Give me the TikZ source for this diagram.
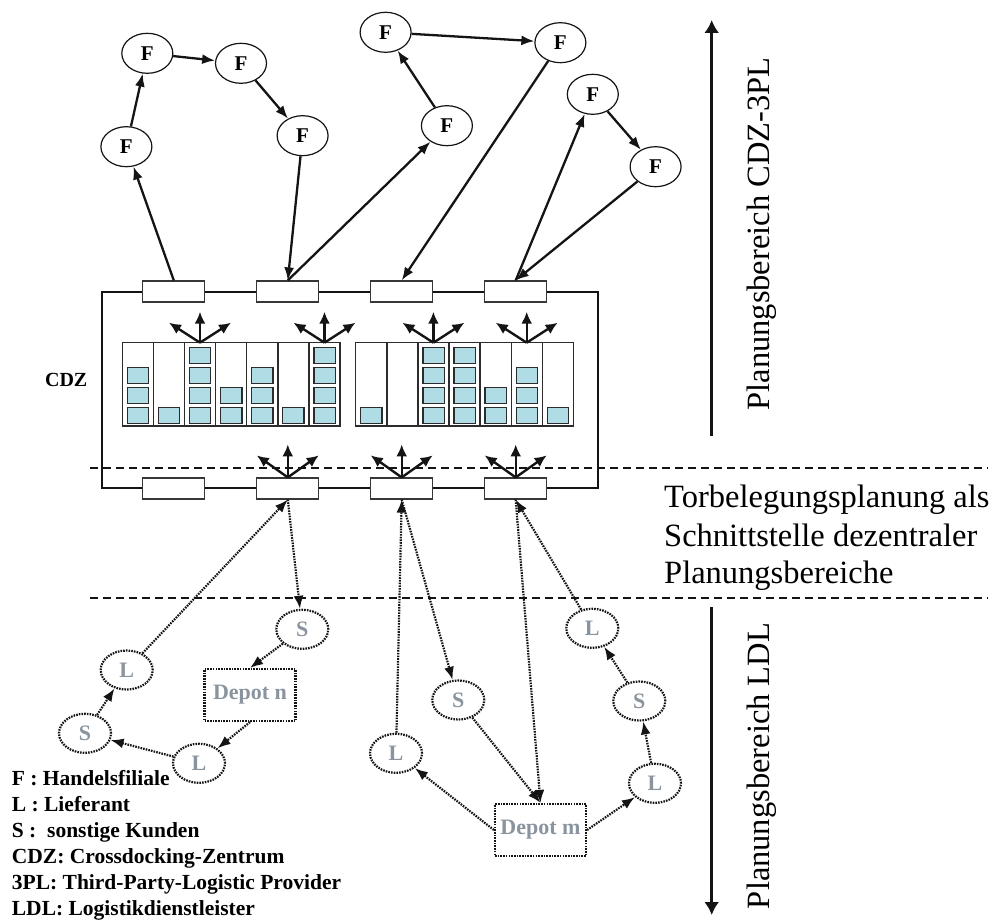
\documentclass[tikz,border=0pt]{standalone}
\usepackage{fontspec}
\setmainfont{Liberation Serif}
\usetikzlibrary{arrows.meta,shapes.geometric}

\definecolor{ink}{RGB}{20,20,20}
\definecolor{boxfill}{RGB}{176,220,230}
\definecolor{lblgray}{RGB}{138,148,158}

\begin{document}
\begin{tikzpicture}[x=1pt,y=-1pt,
  every node/.style={inner sep=0pt},
  fnode/.style={ellipse, draw=ink, line width=1.2pt, minimum width=51pt, minimum height=40pt,
    font=\fontsize{21}{21}\selectfont\bfseries},
  dotline/.style={line width=2.2pt, dash pattern=on 1.6pt off 1.1pt},
  lnode/.style={ellipse, draw=ink, dotline, minimum width=52pt, minimum height=39pt,
    text=lblgray, font=\fontsize{22}{22}\selectfont\bfseries},
  depot/.style={rectangle, draw=ink, dotline, minimum width=91pt, minimum height=52pt,
    text=lblgray, font=\fontsize{22}{22}\selectfont\bfseries},
  gate/.style={rectangle, draw=ink!85, fill=white, line width=1.2pt, minimum width=62pt, minimum height=21pt},
  arr/.style={draw=ink, line width=2.3pt, -{Latex[length=13pt,width=10pt]}},
  darr/.style={arr, dotline},
  fan/.style={draw=ink, line width=2.4pt, -{Latex[length=12pt,width=11pt]}},
  rackline/.style={draw=ink!90, line width=1.4pt},
  crate/.style={draw=ink!90, line width=1.3pt, fill=boxfill},
  sepline/.style={draw=ink, line width=2pt, dash pattern=on 8pt off 5pt},
  spanarrow/.style={draw=ink, line width=3pt, -{Latex[length=13pt,width=15pt]}},
  sidetext/.style={font=\fontsize{32.5}{39}\selectfont},
  legend/.style={anchor=base west, font=\fontsize{21.5}{26}\selectfont\bfseries}
]
\useasboundingbox (0,0) rectangle (999,920);

% crossdocking centre frame
\node[draw=ink, line width=1.2pt, minimum width=496pt, minimum height=196pt] (cdz) at (350,390) {};
\node[anchor=base east, font=\fontsize{20}{20}\selectfont\bfseries] (cdzlbl) at (87.5,386.7) {CDZ};

% storage racks: columns with stacked crates
\foreach \x/\counts in {122.3/{3,1,4,2,3,1,4}, 355.7/{1,0,4,4,2,3,1}} {
  \foreach \c [count=\i from 0] in \counts {
    \draw[rackline] (\x+\i*31.1,342.7) rectangle ++(31.1,83.3);
    \foreach \r in {1,...,4} {
      \ifnum\r>\c\relax\else
        \draw[crate] (\x+\i*31.1+5,423.3-\r*20+20) rectangle ++(21.3,-16);
      \fi
    }
  }
}

% gates on both sides of the centre
\foreach \n/\gx in {1/173.8,2/287.8,3/401.7,4/515.7} {
  \node[gate] (gt\n) at (\gx,291.5) {};
  \node[gate] (gb\n) at (\gx,488.5) {};
}

% distribution fans above the racks
\foreach \n/\fx in {1/200,2/324.5,3/433.4,4/526.7} {
  \coordinate (fo\n) at (\fx,342.7);
  \draw[fan] (fo\n) -- ++(0,-31);
  \draw[fan] (fo\n) -- ++(-31,-20);
  \draw[fan] (fo\n) -- ++(31,-20);
}
% distribution fans above the inbound gates
\foreach \n in {2,3,4} {
  \draw[fan] (gb\n.north) -- ++(0,-33);
  \draw[fan] (gb\n.north) -- ++(-31,-22);
  \draw[fan] (gb\n.north) -- ++(31,-22);
}

% planning boundaries
\coordinate (s1a) at (90,468);  \coordinate (s1b) at (988,468);
\coordinate (s2a) at (90,598); \coordinate (s2b) at (988,598);
\draw[sepline] (s1a) -- (s1b);
\draw[sepline] (s2a) -- (s2b);

% branch stores (3PL tours)
\node[fnode] (Fa) at (126.4,146.7) {F};
\node[fnode] (Fb) at (147.3,53.3) {F};
\node[fnode] (Fc) at (241,63.3) {F};
\node[fnode] (Fd) at (302.6,135.7) {F};
\node[fnode] (Fe) at (385.6,32.3) {F};
\node[fnode] (Ff) at (446.9,125.7) {F};
\node[fnode] (Fg) at (560.4,42.7) {F};
\node[fnode] (Fh) at (592.8,94.3) {F};
\node[fnode] (Fi) at (655.6,166.7) {F};

\draw[arr] (gt1.north) -- (Fa);
\draw[arr] (Fa) -- (Fb);
\draw[arr] (Fb) -- (Fc);
\draw[arr] (Fc) -- (Fd);
\draw[arr] (Fd) -- (gt2.north);
\draw[arr] (gt2.north) -- (Ff);
\draw[arr] (Ff) -- (Fe);
\draw[arr] (Fe) -- (Fg);
\draw[arr] (Fg) -- (gt3.north);
\draw[arr] (gt4.north) -- (Fh);
\draw[arr] (Fh) -- (Fi);
\draw[arr] (Fi) -- (gt4.north);

% suppliers, other customers and depots (LDL tours)
\node[lnode] (S1) at (302.3,629.3) {S};
\node[lnode] (L1) at (126.7,670) {L};
\node[lnode] (S2) at (85,733.3) {S};
\node[lnode] (L2) at (199,763.3) {L};
\node[depot] (depn) at (250,695) {Depot n};
\node[lnode] (L3) at (396,753.3) {L};
\node[lnode] (S3) at (458.3,700) {S};
\node[depot] (depm) at (540.5,830) {Depot m};
\node[lnode] (L4) at (655,783.3) {L};
\node[lnode] (S4) at (639.3,701) {S};
\node[lnode] (L5) at (592.3,628.3) {L};

\draw[darr] (L1) -- (gb2.south);
\draw[darr] (gb2.south) -- (S1);
\draw[darr] (S1) -- (depn.north);
\draw[darr] (depn.south) -- (L2);
\draw[darr] (L2) -- (S2);
\draw[darr] (S2) -- (L1);

\draw[darr] (L3) -- (gb3.south);
\draw[darr] (gb3.south) -- (S3);
\draw[darr] (S3) -- (depm.north);
\draw[darr] (gb4.south) -- (depm.north);
\draw[darr] (depm.west) -- (L3);
\draw[darr] (depm.east) -- (L4);
\draw[darr] (L4) -- (S4);
\draw[darr] (S4) -- (L5);
\draw[darr] (L5) -- (gb4.south);

% planning ranges on the right
\coordinate (r1a) at (711.7,436); \coordinate (r1b) at (711.7,20);
\coordinate (r2a) at (711.7,607); \coordinate (r2b) at (711.7,915);
\draw[spanarrow] (r1a) -- (r1b);
\draw[spanarrow] (r2a) -- (r2b);
\node[sidetext, rotate=90] (rng1) at (762,234) {Planungsbereich CDZ-3PL};
\node[sidetext, rotate=90] (rng2) at (762,766) {Planungsbereich LDL};
\node[sidetext, anchor=base west] (mid1) at (664,507) {Torbelegungsplanung als};
\node[sidetext, anchor=base west] (mid2) at (664,546) {Schnittstelle dezentraler};
\node[sidetext, anchor=base west] (mid3) at (664,583) {Planungsbereiche};

% legend
\node[legend] (lg1) at (11.7,785) {F : Handelsfiliale};
\node[legend] (lg2) at (11.7,811) {L : Lieferant};
\node[legend] (lg3) at (11.7,837) {S :~ sonstige Kunden};
\node[legend] (lg4) at (11.7,863) {CDZ: Crossdocking-Zentrum};
\node[legend] (lg5) at (11.7,889) {3PL: Third-Party-Logistic Provider};
\node[legend] (lg6) at (11.7,915) {LDL: Logistikdienstleister};
\end{tikzpicture}
\end{document}
